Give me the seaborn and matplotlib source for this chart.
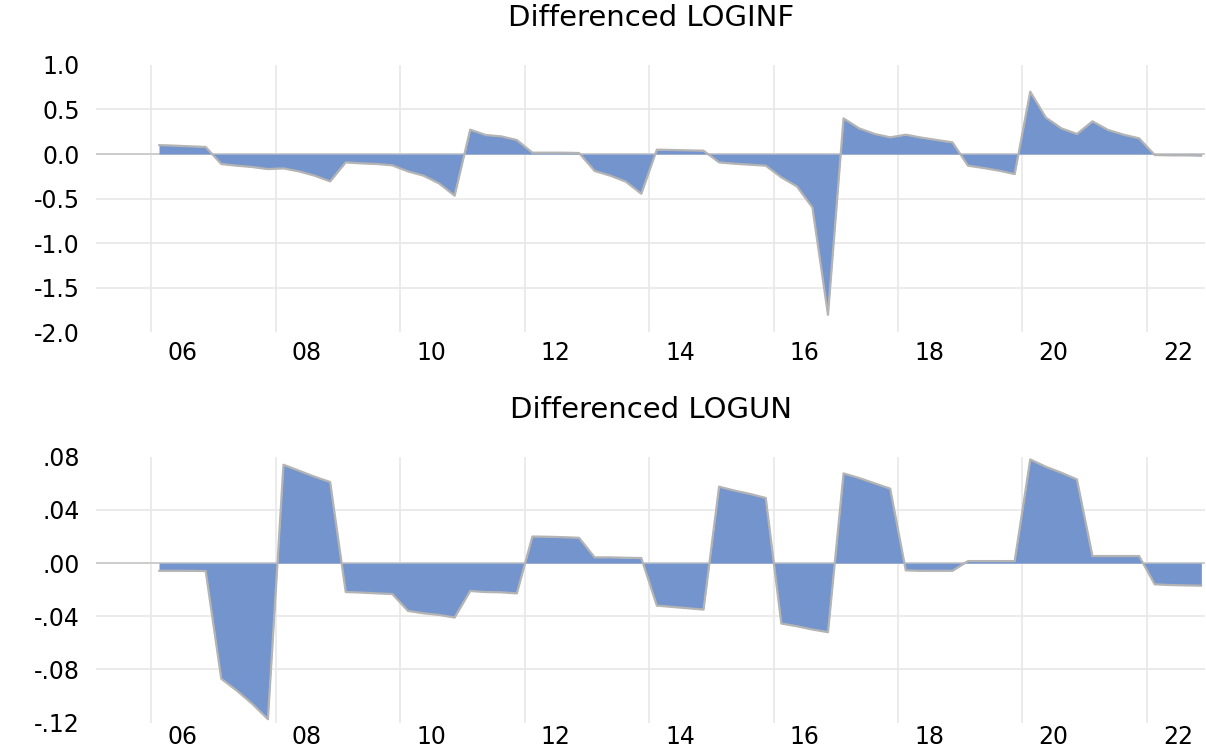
import matplotlib
matplotlib.use("Agg")
import matplotlib.pyplot as plt
import matplotlib.ticker as mticker
import numpy as np
import pandas as pd
import seaborn as sns

# quarterly sample 2006Q1 - 2022Q4
quarters = pd.period_range("2006Q1", "2022Q4", freq="Q")

d_loginf = [
    0.100, 0.094, 0.086, 0.079, -0.112, -0.131, -0.146, -0.169,
    -0.161, -0.195, -0.243, -0.307, -0.094, -0.105, -0.112, -0.127,
    -0.195, -0.243, -0.330, -0.468, 0.273, 0.213, 0.198, 0.157,
    0.015, 0.015, 0.015, 0.011, -0.190, -0.243, -0.310, -0.446,
    0.049, 0.045, 0.041, 0.037, -0.094, -0.109, -0.120, -0.131,
    -0.262, -0.363, -0.600, -1.805, 0.400, 0.288, 0.225, 0.187,
    0.217, 0.184, 0.157, 0.131, -0.131, -0.157, -0.187, -0.225,
    0.700, 0.410, 0.288, 0.225, 0.367, 0.270, 0.217, 0.176,
    -0.011, -0.015, -0.015, -0.019,
]

d_logun = [
    -0.0058, -0.0058, -0.0058, -0.0060, -0.0870, -0.0960, -0.1060, -0.1175,
    0.0740, 0.0695, 0.0650, 0.0610, -0.0218, -0.0222, -0.0228, -0.0233,
    -0.0360, -0.0378, -0.0390, -0.0410, -0.0210, -0.0218, -0.0220, -0.0228,
    0.0200, 0.0198, 0.0195, 0.0190, 0.0043, 0.0043, 0.0040, 0.0038,
    -0.0320, -0.0330, -0.0340, -0.0350, 0.0575, 0.0545, 0.0520, 0.0490,
    -0.0455, -0.0475, -0.0500, -0.0520, 0.0675, 0.0640, 0.0600, 0.0560,
    -0.0055, -0.0058, -0.0058, -0.0058, 0.0015, 0.0015, 0.0015, 0.0015,
    0.0780, 0.0725, 0.0680, 0.0630, 0.0053, 0.0053, 0.0053, 0.0053,
    -0.0160, -0.0165, -0.0168, -0.0170,
]

titles = ["Differenced LOGINF", "Differenced LOGUN"]
year_labels = ["06", "08", "10", "12", "14", "16", "18", "20", "22"]
loginf_ticks = [1.0, 0.5, 0.0, -0.5, -1.0, -1.5, -2.0]
logun_ticks = [0.08, 0.04, 0.0, -0.04, -0.08, -0.12]

df = pd.DataFrame({
    "date": quarters.year + (quarters.quarter - 0.5) / 4,
    "LOGINF": d_loginf,
    "LOGUN": d_logun,
})

sns.set_theme(style="white")
plt.rcParams["font.family"] = ["DejaVu Sans"]

fill_color = "#7394cc"
edge_color = "#b4b4b4"
grid_color = "#e8e8e8"

fig = plt.figure(figsize=(12.06, 7.55), dpi=100)
ax1 = fig.add_axes([0.080, 0.560, 0.919, 0.354])
ax2 = fig.add_axes([0.080, 0.043, 0.919, 0.352])


def eu_fmt(v, pos):
    s = f"{v:.2f}"
    return s.replace("0.", ".", 1)


def draw_panel(ax, col, ticks, ylim, title, title_y, fmt, xpad):
    ax.fill_between(df["date"], df[col], 0, color=fill_color, lw=0, zorder=2)
    sns.lineplot(data=df, x="date", y=col, ax=ax, color=edge_color,
                 lw=1.6, zorder=3)
    ax.axhline(0, color="#c8c8c8", lw=1.2, zorder=1)
    ax.set_xlim(2005.12, 2022.93)
    ax.set_ylim(*ylim)
    ax.set_yticks(ticks)
    ax.yaxis.set_major_formatter(mticker.FuncFormatter(fmt))
    # gridlines at start of even years, labels at mid-year
    ax.set_xticks(np.arange(2006, 2023, 2))
    ax.set_xticklabels([])
    ax.set_xticks(np.arange(2006, 2023, 2) + 0.5, minor=True)
    ax.set_xticklabels(year_labels, minor=True)
    ax.tick_params(axis="x", which="both", length=0, pad=xpad, labelsize=17,
                   labelcolor="black")
    ax.tick_params(axis="y", length=0, pad=12, labelsize=17,
                   labelcolor="black")
    ax.grid(True, axis="both", which="major", color=grid_color, lw=1.2, zorder=0)
    # no gridlines on the panel edges
    ygl = ax.yaxis.get_gridlines()
    ygl[0].set_visible(False)
    ygl[-1].set_visible(False)
    ax.set_xlabel("")
    ax.set_ylabel("")
    for sp in ax.spines.values():
        sp.set_visible(False)
    fig.text(0.54, title_y, title, ha="center", va="center", fontsize=21,
             color="black")


draw_panel(ax1, "LOGINF", loginf_ticks, (-2.0, 1.0), titles[0], 0.976,
           lambda v, p: f"{v:.1f}", 6)
draw_panel(ax2, "LOGUN", logun_ticks, (-0.12, 0.08), titles[1], 0.457, eu_fmt, 2)

fig.savefig("out.png", dpi=100)
